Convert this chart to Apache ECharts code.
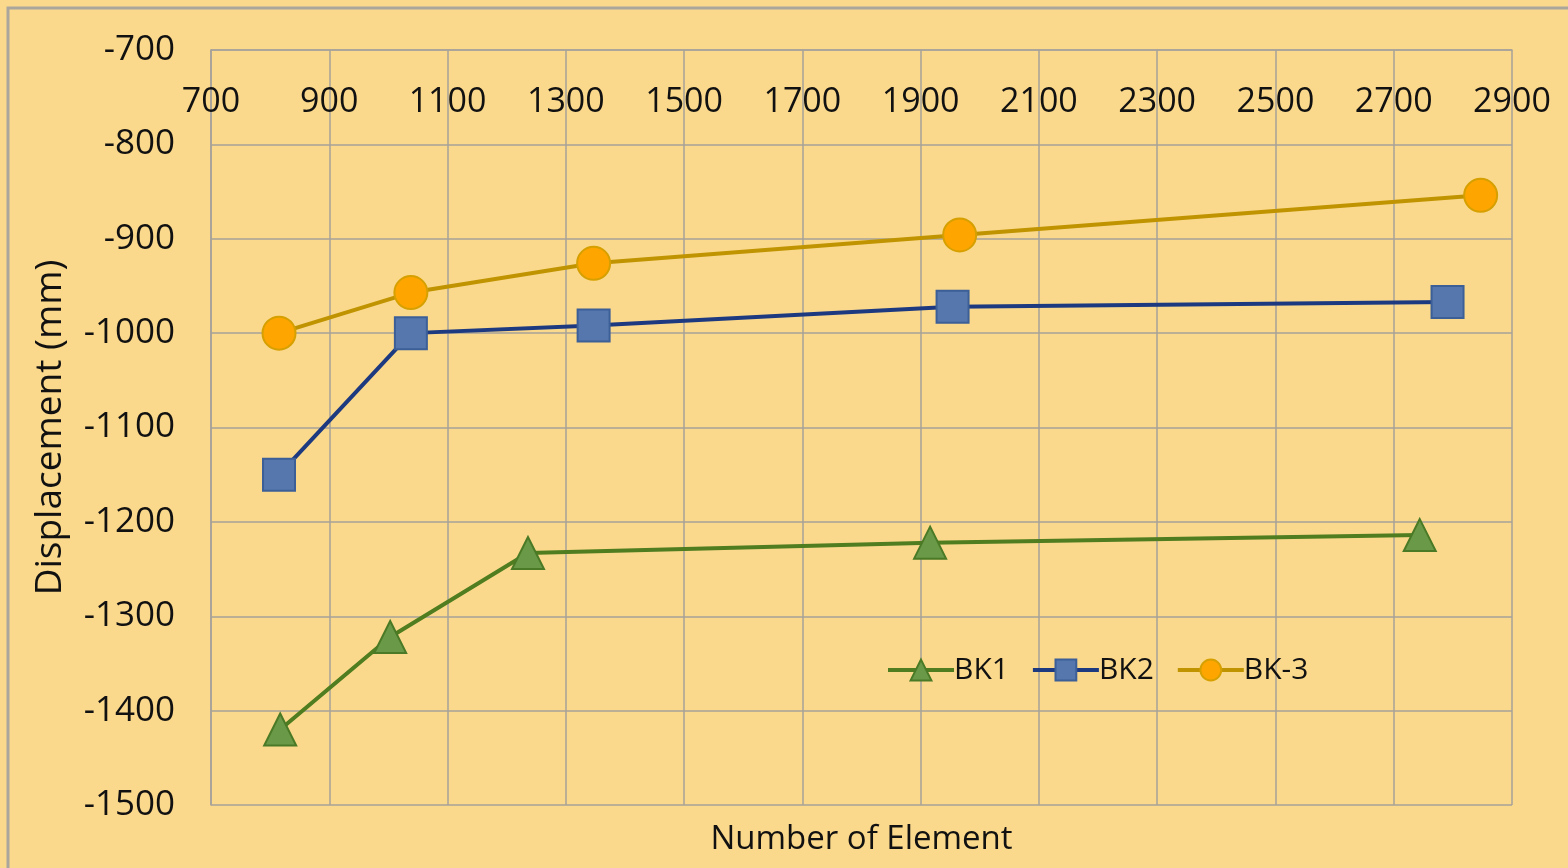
<!DOCTYPE html>
<html>
<head>
<meta charset="utf-8">
<script src="https://cdn.jsdelivr.net/npm/echarts@6/dist/echarts.min.js"></script>
<style>
  html, body { margin: 0; padding: 0; background: #fbd98c; }
  #chart { width: 1568px; height: 868px; }
</style>
</head>
<body>
<div id="chart"></div>
<script>
// Mesh size (number of elements) vs. displacement for three beams
const xTicks = [700, 2900, 200];          // min, max, step of the element axis
const yTicks = [-1500, -700, 100];        // min, max, step of the displacement axis

const bk1Elements = [817, 1003, 1236, 1916, 2744];
const bk1Disp     = [-1420, -1322, -1233, -1222, -1214];

const bk2Elements = [815, 1038, 1347, 1954, 2791];
const bk2Disp     = [-1150, -1000, -992, -972, -967];

const bk3Elements = [815, 1038, 1347, 1966, 2847];
const bk3Disp     = [-1000, -957, -926, -896, -854];

const seriesNames = ['BK1', 'BK2', 'BK-3'];

const pairs = (xs, ys) => xs.map((x, i) => [x, ys[i]]);

const font = '"Open Sans", "Noto Sans", sans-serif';
const textColor = '#111';
const gridColor = '#a6a29a';
const plain = v => String(v);

const chart = echarts.init(document.getElementById('chart'), null, { renderer: 'canvas' });

function lineSeries(name, data, lineColor, symbol, fill, border, size) {
  return {
    name, type: 'line', data,
    xAxisIndex: 0,
    symbol, symbolSize: size,
    lineStyle: { color: lineColor, width: 4 },
    itemStyle: { color: fill, borderColor: border, borderWidth: 2 },
    emphasis: { disabled: true },
    z: 3
  };
}

chart.setOption({
  animation: false,
  backgroundColor: '#fbd98c',
  textStyle: { fontFamily: font },
  graphic: [{
    type: 'rect',
    shape: { x: 8, y: 8, width: 1600, height: 1000 },
    style: { fill: 'none', stroke: '#aaa69e', lineWidth: 3 },
    z: -1
  }],
  grid: { left: 211, right: 56, top: 50, bottom: 63 },
  legend: {
    data: seriesNames,
    left: 881, top: 650,
    itemWidth: 66, itemHeight: 26, itemGap: 22,
    lineStyle: { width: 4 },
    textStyle: { fontSize: 30, color: textColor, fontFamily: font, padding: [0, 0, 0, -5] }
  },
  xAxis: [{
    // tick labels along the top edge, drawn inside the plot
    type: 'value', position: 'top',
    min: xTicks[0], max: xTicks[1], interval: xTicks[2],
    axisLine: { show: true, lineStyle: { color: gridColor, width: 1.5 } },
    axisTick: { show: false },
    axisLabel: { inside: true, margin: 35, fontSize: 34, color: textColor, fontFamily: font, formatter: plain },
    splitLine: { show: true, lineStyle: { color: gridColor, width: 1.5 } }
  }, {
    // carries only the axis title under the plot
    type: 'value', position: 'bottom',
    min: xTicks[0], max: xTicks[1], interval: xTicks[2],
    name: 'Number of Element', nameLocation: 'middle', nameGap: 18,
    nameTextStyle: { fontSize: 33, color: textColor, fontFamily: font },
    axisLine: { show: false },
    axisTick: { show: false },
    axisLabel: { show: false },
    splitLine: { show: false }
  }],
  yAxis: {
    type: 'value',
    min: yTicks[0], max: yTicks[1], interval: yTicks[2],
    name: 'Displacement (mm)', nameLocation: 'middle', nameGap: 142,
    nameTextStyle: { fontSize: 37, color: textColor, fontFamily: font },
    axisLine: { show: true, lineStyle: { color: gridColor, width: 1.5 } },
    axisTick: { show: false },
    axisLabel: { margin: 36, fontSize: 35, color: textColor, fontFamily: font, formatter: plain },
    splitLine: { show: true, lineStyle: { color: gridColor, width: 1.5 } }
  },
  series: [
    lineSeries('BK1', pairs(bk1Elements, bk1Disp), '#4f7d1f', 'triangle', '#6a9a48', '#4a7a26', 32),
    lineSeries('BK2', pairs(bk2Elements, bk2Disp), '#1d3a80', 'rect', '#5577ad', '#3c5f98', 32),
    lineSeries('BK-3', pairs(bk3Elements, bk3Disp), '#c09400', 'circle', '#ffa500', '#d6a000', 33)
  ]
});
</script>
</body>
</html>
